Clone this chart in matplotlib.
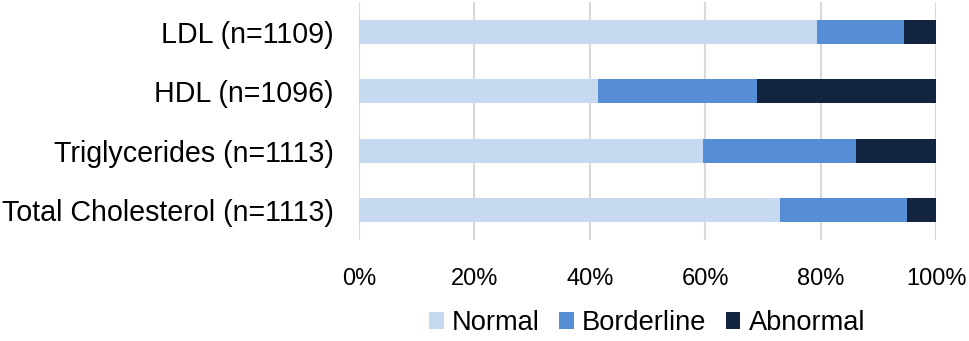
import numpy as np
import matplotlib
matplotlib.use("Agg")
import matplotlib.pyplot as plt

plt.rcParams['font.family'] = ['Liberation Sans', 'DejaVu Sans']

# Data (percent of participants)
categories = ['Total Cholesterol (n=1113)', 'Triglycerides (n=1113)',
              'HDL (n=1096)', 'LDL (n=1109)']
normal = [72.9, 59.6, 41.5, 79.3]
borderline = [22.0, 26.6, 27.4, 15.1]
abnormal = [5.1, 13.8, 31.1, 5.6]
series_names = ['Normal', 'Borderline', 'Abnormal']
colors = ['#C6D9F1', '#558ED5', '#12243F']

fig = plt.figure(figsize=(9.69, 3.41), dpi=100)
ax = fig.add_axes([359/969, 101/341, 577/969, 238/341])

y = np.arange(len(categories))
left = np.zeros(len(categories))
for vals, name, c in zip([normal, borderline, abnormal], series_names, colors):
    ax.barh(y, vals, left=left, height=0.4, color=c, label=name, zorder=3)
    left = left + np.array(vals)

ax.set_xlim(0, 100)
ax.set_ylim(-0.5, 3.5)
ax.set_yticks(y)
ax.set_yticklabels(categories, fontsize=20.6)
ax.set_xticks(np.arange(0, 101, 20))
ax.set_xticklabels([f'{v}%' for v in range(0, 101, 20)], fontsize=17)
ax.tick_params(axis='y', length=0, pad=18)
ax.tick_params(axis='x', length=0, pad=20)
ax.xaxis.grid(True, color='#D9D9D9', linewidth=1.5, zorder=0)
for s in ax.spines.values():
    s.set_visible(False)

fig.legend(loc='center', bbox_to_anchor=(647/969, 1 - 323/341), ncol=3,
           frameon=False, fontsize=19.6, handlelength=0.55, handleheight=0.55,
           handletextpad=0.3, columnspacing=0.7, borderaxespad=0)

fig.savefig('out.png', dpi=100)
